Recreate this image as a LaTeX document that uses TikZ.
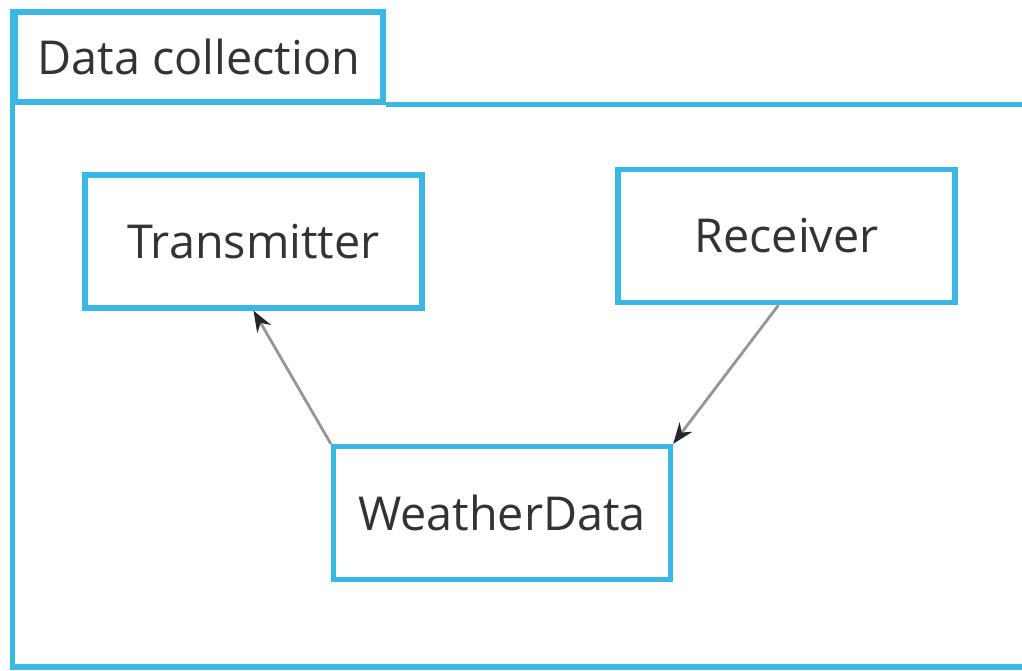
\documentclass[tikz,border=0pt]{standalone}
\usepackage{fontspec}
\setmainfont{Open Sans}
\usetikzlibrary{arrows.meta, positioning}
\definecolor{framecyan}{RGB}{58,183,228}
\definecolor{linegray}{RGB}{150,150,150}
\tikzset{
    block/.style={rectangle, draw=framecyan, line width=1.5pt, fill=white, align=center, minimum width=3.37cm, minimum height=1.33cm, text=black!80, font=\fontsize{13.3}{15}\selectfont},
    arrow/.style={draw=linegray, line width=0.8pt, -{Stealth[length=6pt, width=4.5pt, color=black!85]}},
    frameline/.style={draw=framecyan, line width=1.5pt}
}

\begin{document}
\begin{tikzpicture}
            \useasboundingbox (0,0) rectangle (10.22,6.71);
            \node[block, minimum width=3.68cm, minimum height=0.90cm] (tab) at (1.99,6.14) {Data collection};
            \coordinate (frame_br) at (10.30,0.04);

            \node[block] (transmitter) at (2.535,4.295) {Transmitter};
            \node[block] (receiver) at (7.865,4.35) {Receiver};
            \node[block] (weather_data) at (5.02,1.58) {WeatherData};

            \draw[frameline] (tab.north west) -- (tab.north west |- frame_br) -- (frame_br);
            \draw[frameline] (tab.south east) -- (tab.south east -| frame_br);

            \draw[arrow] (weather_data.north west) -- (transmitter.south);
            \draw[arrow] ([xshift=-0.08cm]receiver.south) -- (weather_data.north east);
        \end{tikzpicture}
\end{document}
